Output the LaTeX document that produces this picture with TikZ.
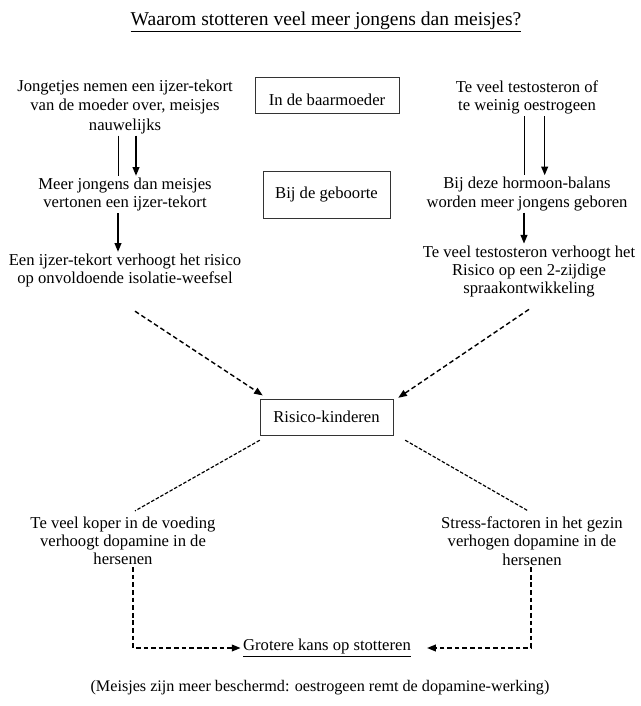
\documentclass[tikz,border=0pt]{standalone}
\usepackage{fontspec}
\setmainfont{Liberation Serif}
\usetikzlibrary{arrows.meta}

\begin{document}
\begin{tikzpicture}[x=0.03cm, y=-0.03cm,
    every node/.style={font=\fontsize{14.2}{15.6}\selectfont},
    txt/.style={align=center, inner sep=1.5pt},
    stage/.style={draw=black!80, thin, inner sep=0pt, align=center},
    solid arrow/.style={line width=1.4pt, -{Triangle[length=0.26cm, width=0.2cm]}},
    plain line/.style={line width=0.6pt},
    dash arrow/.style={line width=1.2pt, dash pattern=on 4pt off 2.5pt, -{Triangle[length=0.26cm, width=0.2cm]}},
    dash line/.style={line width=1pt, dash pattern=on 3pt off 1.5pt}]

    \useasboundingbox (0,0) rectangle (640,706);

    \node[txt, font=\fontsize{16.7}{18}\selectfont] (1) at (326,22) {\underline{Waarom stotteren veel meer jongens dan meisjes?}};

    % in de baarmoeder
    \node[txt, font=\fontsize{14.2}{16.4}\selectfont] (2) at (125,107) {Jongetjes nemen een ijzer-tekort\\van de moeder over, meisjes\\nauwelijks};
    \node[stage, minimum width=4.32cm, text height=0.85cm, text depth=0.24cm] (3) at (327,95.5) {In de baarmoeder};
    \node[txt] (4) at (527,97.5) {Te veel testosteron of\\te weinig oestrogeen};

    % bij de geboorte
    \node[txt] (5) at (125,194.5) {Meer jongens dan meisjes\\vertonen een ijzer-tekort};
    \node[stage, minimum width=3.81cm, minimum height=1.41cm] (6) at (326.5,194.5) {Bij de geboorte};
    \node[txt] (7) at (527,194) {Bij deze hormoon-balans\\worden meer jongens geboren};

    \node[txt] (8) at (125,270.5) {Een ijzer-tekort verhoogt het risico\\op onvoldoende isolatie-weefsel};
    \node[txt] (9) at (529,271.5) {Te veel testosteron verhoogt het\\Risico op een 2-zijdige\\spraakontwikkeling};

    \node[stage, minimum width=3.99cm, minimum height=1.08cm] (10) at (326.5,417) {Risico-kinderen};

    \node[txt] (11) at (123,541) {Te veel koper in de voeding\\verhoogt dopamine in de\\hersenen};
    \node[txt] (12) at (532,541) {Stress-factoren in het gezin\\verhogen dopamine in de\\hersenen};

    \node[inner sep=0pt] (13) at (327,648) {\underline{Grotere kans op stotteren}};
    \node[txt, font=\fontsize{13.8}{15.6}\selectfont] (14) at (320,688) {(Meisjes zijn meer beschermd: oestrogeen remt de dopamine-werking)};

    \draw[plain line] ([xshift=-0.21cm]2.south) -- ([xshift=-0.21cm]2.south |- 5.north);
    \draw[solid arrow] ([xshift=0.33cm]2.south) -- ([xshift=0.33cm]2.south |- 5.north);
    \draw[plain line] ([xshift=-0.07cm]4.south) -- ([xshift=-0.07cm]4.south |- 7.north);
    \draw[solid arrow] ([xshift=0.53cm]4.south) -- ([xshift=0.53cm]4.south |- 7.north);
    \draw[solid arrow] ([xshift=-0.21cm]5.south) -- ([xshift=-0.21cm]5.south |- 8.north);
    \draw[solid arrow] ([xshift=-0.09cm]7.south) -- ([xshift=-0.09cm]7.south |- 9.north);

    \draw[dash arrow] ([xshift=0.3cm, yshift=-0.66cm]8.south) -- ([xshift=0.09cm, yshift=0.1cm]10.north west);
    \draw[dash arrow] ([yshift=-0.3cm]9.south) -- ([xshift=0.15cm, yshift=0.03cm]10.north east);

    \draw[dash line] ([yshift=-0.15cm]10.south west) -- ([xshift=0.36cm, yshift=0.12cm]11.north);
    \draw[dash line] ([xshift=0.36cm, yshift=-0.15cm]10.south east) -- ([xshift=-0.12cm, yshift=0.12cm]12.north);

    \draw[dash arrow] ([xshift=0.3cm]11.south) |- ([xshift=-2pt]13.west);
    \draw[dash arrow] ([xshift=-0.03cm]12.south) |- ([xshift=0.48cm]13.east);
\end{tikzpicture}
\end{document}
